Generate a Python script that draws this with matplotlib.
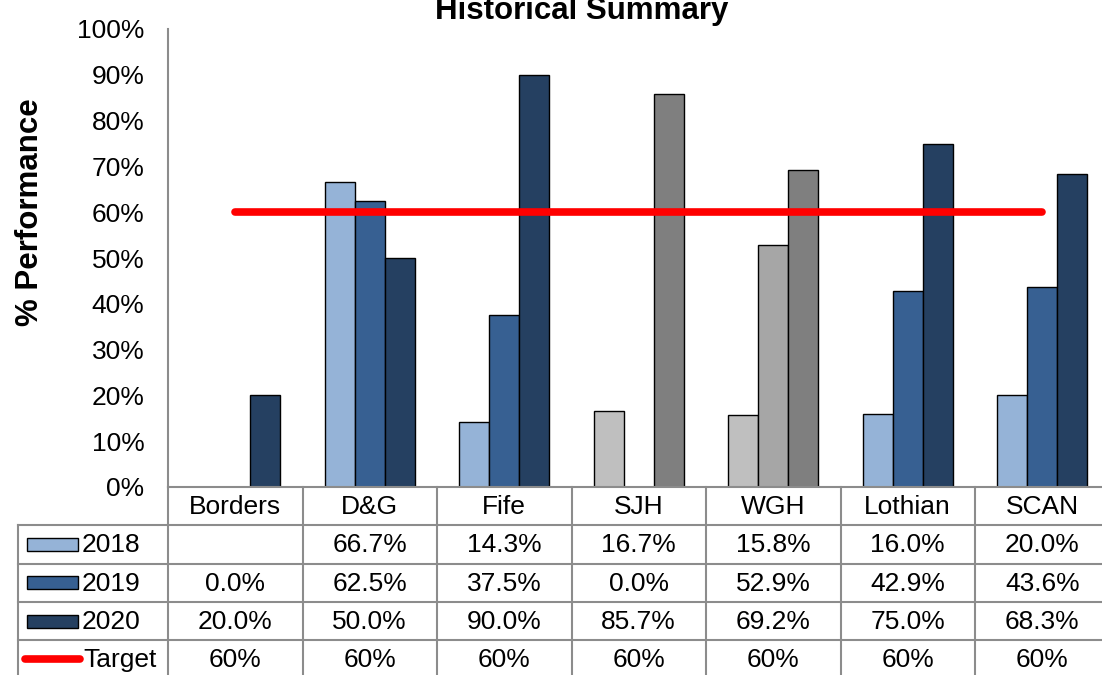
"""Historical summary bar chart with an Excel-style data table underneath."""

import matplotlib

matplotlib.use("Agg")
import matplotlib.pyplot as plt
import numpy as np
from matplotlib.patches import Rectangle

plt.rcParams["font.family"] = ["Liberation Sans", "DejaVu Sans"]

SITES = ["Borders", "D&G", "Fife", "SJH", "WGH", "Lothian", "SCAN"]
YEARS = ["2018", "2019", "2020"]
PERF_2018 = [None, 66.7, 14.3, 16.7, 15.8, 16.0, 20.0]
PERF_2019 = [0.0, 62.5, 37.5, 0.0, 52.9, 42.9, 43.6]
PERF_2020 = [20.0, 50.0, 90.0, 85.7, 69.2, 75.0, 68.3]
TARGET = [60, 60, 60, 60, 60, 60, 60]

BLUES = ["#95B3D7", "#376092", "#254061"]
GREYS = ["#BFBFBF", "#A6A6A6", "#7F7F7F"]
GREY_SITES = {"SJH", "WGH"}
GRID = "#8C8C8C"

W, H = 1102, 675
FS = 19

# pixel layout
X0, CAT_W = 168, 134.5
Y_TOP, Y_BASE = 29, 487
ROW_H = 38.3
LEG_X = 18

fig = plt.figure(figsize=(W / 100, H / 100), dpi=100, facecolor="white")


def px(x0, y0, x1, y1):
    return [x0 / W, 1 - y1 / H, (x1 - x0) / W, (y1 - y0) / H]


X1 = X0 + CAT_W * len(SITES)
ax = fig.add_axes(px(X0, Y_TOP, X1, Y_BASE))
ax.set_xlim(-0.5, len(SITES) - 0.5)
ax.set_ylim(0, 100)

x = np.arange(len(SITES))
bw = 30 / CAT_W
series = [PERF_2018, PERF_2019, PERF_2020]
for k, vals in enumerate(series):
    for i, v in enumerate(vals):
        if v is None:
            continue
        colour = GREYS[k] if SITES[i] in GREY_SITES else BLUES[k]
        ax.bar(x[i] + (k - 1) * bw, v, width=bw, color=colour,
               edgecolor="black", linewidth=1.0, zorder=2)

ax.plot(x, TARGET, color="#FF0000", lw=5.5, solid_capstyle="round", zorder=3)

ax.set_yticks(np.arange(0, 101, 10))
ax.set_yticklabels([f"{t}%" for t in range(0, 101, 10)], fontsize=FS)
ax.tick_params(axis="y", length=0, pad=17)
ax.set_xticks([])
for s in ("top", "right", "bottom"):
    ax.spines[s].set_visible(False)
ax.spines["left"].set_color(GRID)
ax.spines["left"].set_linewidth(1.5)
ax.set_ylabel("% Performance", fontsize=22.5, fontweight="bold")
ax.yaxis.label.set_verticalalignment("center")
ax.yaxis.set_label_coords(-(X0 - 30) / (X1 - X0), 0.60)

# overlay axes in pixel coordinates for title and data table
ov = fig.add_axes([0, 0, 1, 1], zorder=5)
ov.set_xlim(0, W)
ov.set_ylim(H, 0)
ov.axis("off")
ov.patch.set_alpha(0)

ov.text(582, 19, "Historical Summary", ha="center", va="baseline",
        fontsize=22.5, fontweight="bold")

line_kw = dict(color=GRID, lw=1.5, zorder=1)
ov.plot([X0, X1], [Y_BASE, Y_BASE], **line_kw)
rows_top = Y_BASE + ROW_H
row_y = [rows_top + ROW_H * r for r in range(5)]
for yy in row_y:
    ov.plot([LEG_X, X1], [yy, yy], **line_kw)
for i in range(len(SITES) + 1):
    xx = X0 + CAT_W * i
    ov.plot([xx, xx], [Y_BASE, H + 5], **line_kw)
ov.plot([LEG_X, LEG_X], [rows_top, H + 5], **line_kw)

# header row with site names
for i, name in enumerate(SITES):
    ov.text(X0 + CAT_W * (i + 0.5), Y_BASE + ROW_H / 2 + 1, name,
            ha="center", va="center", fontsize=FS)

# series rows
for k, vals in enumerate(series):
    yc = rows_top + ROW_H * (k + 0.5)
    ov.add_patch(Rectangle((27, yc - 6.5), 51, 13, facecolor=BLUES[k],
                           edgecolor="black", lw=1.0))
    ov.text(82, yc + 1, YEARS[k], ha="left", va="center", fontsize=FS)
    for i, v in enumerate(vals):
        if v is None:
            continue
        ov.text(X0 + CAT_W * (i + 0.5), yc + 1, f"{v:.1f}%",
                ha="center", va="center", fontsize=FS)

yc = rows_top + ROW_H * 3.5
ov.plot([25, 80], [yc, yc], color="#FF0000", lw=5.5, solid_capstyle="round")
ov.text(83, yc + 1, "Target", ha="left", va="center", fontsize=FS)
for i, v in enumerate(TARGET):
    ov.text(X0 + CAT_W * (i + 0.5), yc + 1, f"{v}%",
            ha="center", va="center", fontsize=FS)

fig.savefig("out.png", dpi=100, facecolor="white")
